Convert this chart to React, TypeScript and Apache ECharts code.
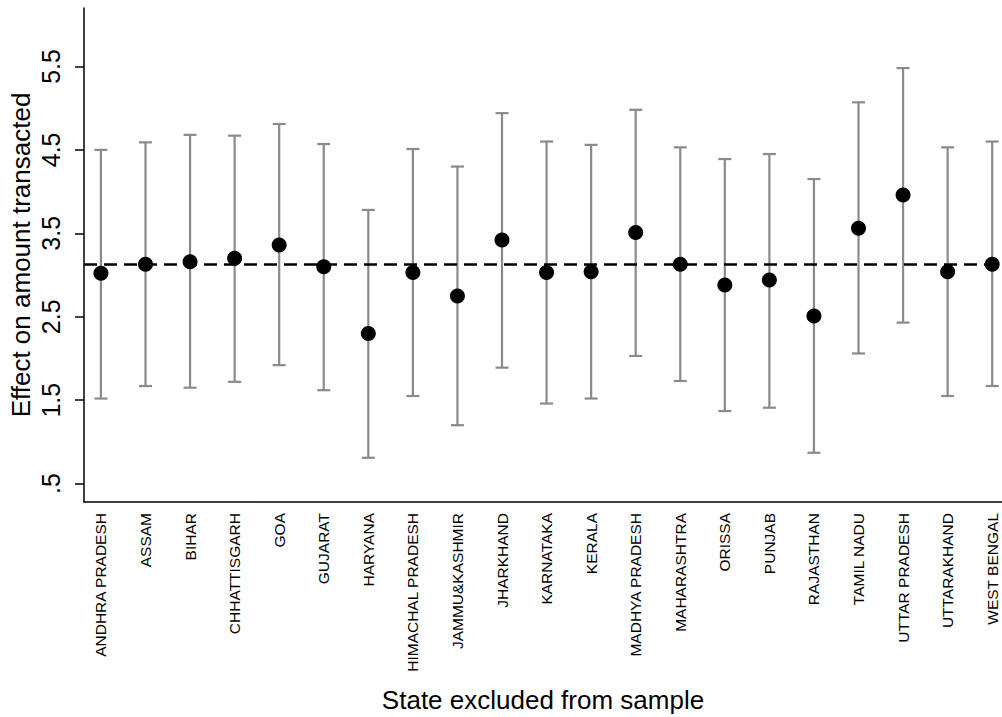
import React, { useEffect, useRef } from "react";
import * as echarts from "echarts";

const states = [
  "ANDHRA PRADESH", "ASSAM", "BIHAR", "CHHATTISGARH", "GOA", "GUJARAT", "HARYANA",
  "HIMACHAL PRADESH", "JAMMU&KASHMIR", "JHARKHAND", "KARNATAKA", "KERALA",
  "MADHYA PRADESH", "MAHARASHTRA", "ORISSA", "PUNJAB", "RAJASTHAN", "TAMIL NADU",
  "UTTAR PRADESH", "UTTARAKHAND", "WEST BENGAL",
];
const estimates = [3.02, 3.13, 3.16, 3.2, 3.36, 3.1, 2.3, 3.03, 2.75, 3.42, 3.03, 3.04, 3.51, 3.13, 2.88, 2.94, 2.51, 3.56, 3.96, 3.04, 3.13];
const upper = [4.5, 4.59, 4.68, 4.67, 4.81, 4.57, 3.78, 4.51, 4.3, 4.94, 4.6, 4.56, 4.98, 4.53, 4.39, 4.45, 4.15, 5.07, 5.48, 4.53, 4.6];
const lower = [1.52, 1.67, 1.65, 1.72, 1.92, 1.62, 0.81, 1.55, 1.2, 1.89, 1.46, 1.52, 2.03, 1.73, 1.37, 1.41, 0.87, 2.06, 2.43, 1.55, 1.67];
const baseline = 3.13;
const yTickValues = [0.5, 1.5, 2.5, 3.5, 4.5, 5.5];
const yTickLabels = [".5", "1.5", "2.5", "3.5", "4.5", "5.5"];

const FONT = "'Liberation Sans', Arial, Helvetica, sans-serif";

export default function App() {
  const ref = useRef<HTMLDivElement>(null);
  useEffect(() => {
    if (!ref.current) return;
    const chart = echarts.init(ref.current, null, { renderer: "svg" });
    const barData = states.map((_, i) => [i, lower[i], upper[i]]);
    const pointData = states.map((_, i) => [i, estimates[i]]);
    chart.setOption({
      animation: false,
      backgroundColor: "#fff",
      grid: { left: 84, right: 0, top: 8, bottom: 215, containLabel: false, outerBoundsMode: "none" },
      xAxis: {
        type: "value",
        min: -0.38,
        max: 20.22,
        axisLine: { show: true, onZero: false, lineStyle: { color: "#000", width: 1.5 } },
        axisTick: { show: false },
        splitLine: { show: false },
        axisLabel: {
          customValues: states.map((_, i) => i),
          formatter: (v: number) => states[Math.round(v)] ?? "",
          rotate: 90,
          fontSize: 15.5,
          color: "#000",
          margin: 11,
          fontFamily: FONT,
        },
        name: "State excluded from sample",
        nameLocation: "middle",
        nameGap: 185,
        nameMoveOverlap: false,
        nameTextStyle: { fontSize: 26, color: "#000", fontFamily: FONT },
      },
      yAxis: {
        type: "value",
        min: 0.28,
        max: 6.2,
        axisLine: { show: true, onZero: false, lineStyle: { color: "#000", width: 1.5 } },
        axisTick: { show: true, customValues: yTickValues, length: 9, lineStyle: { color: "#000", width: 1.5 } },
        splitLine: { show: false },
        axisLabel: {
          customValues: yTickValues,
          formatter: (v: number) => {
            const idx = yTickValues.findIndex((t) => Math.abs(t - v) < 1e-6);
            return idx >= 0 ? yTickLabels[idx] : "";
          },
          rotate: 90,
          fontSize: 25,
          color: "#000",
          margin: 21,
          fontFamily: FONT,
        },
        name: "Effect on amount transacted",
        nameLocation: "middle",
        nameRotate: 90,
        nameGap: 50,
        nameMoveOverlap: false,
        nameTextStyle: { fontSize: 26, color: "#000", fontFamily: FONT },
      },
      series: [
        {
          type: "custom",
          data: barData,
          renderItem: (params: any, api: any) => {
            const x = api.value(0);
            const lo = api.coord([x, api.value(1)]);
            const hi = api.coord([x, api.value(2)]);
            const hw = 6.5;
            const style = { stroke: "#8a8a8a", lineWidth: 2.2 };
            return {
              type: "group",
              children: [
                { type: "line", shape: { x1: lo[0], y1: lo[1], x2: hi[0], y2: hi[1] }, style },
                { type: "line", shape: { x1: lo[0] - hw, y1: lo[1], x2: lo[0] + hw, y2: lo[1] }, style },
                { type: "line", shape: { x1: hi[0] - hw, y1: hi[1], x2: hi[0] + hw, y2: hi[1] }, style },
              ],
            };
          },
          z: 2,
        },
        {
          type: "scatter",
          data: pointData,
          symbol: "circle",
          symbolSize: 15,
          itemStyle: { color: "#000", opacity: 1 },
          z: 4,
          markLine: {
            silent: true,
            symbol: "none",
            label: { show: false },
            lineStyle: { color: "#000", width: 2.5, type: [13, 7], opacity: 1 },
            data: [{ yAxis: baseline }],
            z: 3,
          },
        },
      ],
    });
    return () => chart.dispose();
  }, []);
  return (
    <div
      ref={ref}
      style={{ position: "absolute", left: 0, top: 0, width: 1002, height: 717 }}
    />
  );
}
